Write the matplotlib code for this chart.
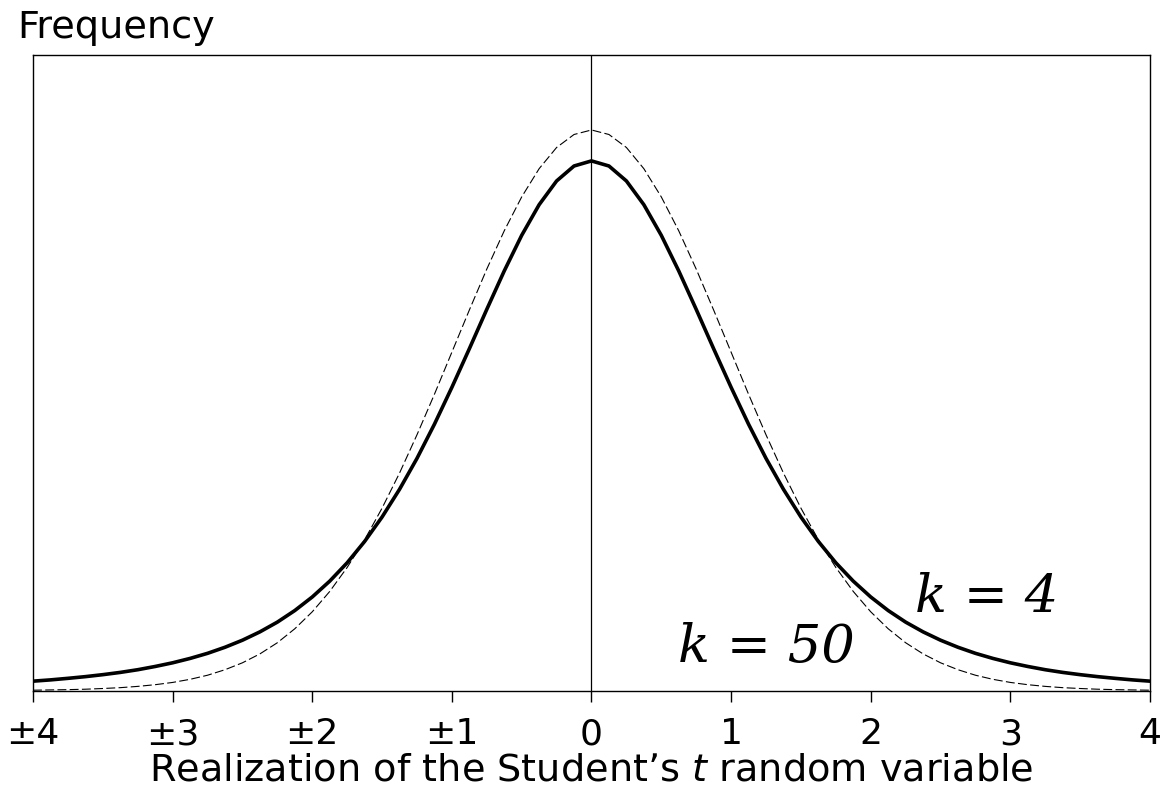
import numpy as np
import matplotlib
matplotlib.use("Agg")
import matplotlib.pyplot as plt

plt.rcParams['font.family'] = ['DejaVu Sans']

# t values (right half, the densities are symmetric about 0)
t_half = [0.0, 0.125, 0.25, 0.375, 0.5, 0.625, 0.75, 0.875, 1.0, 1.125, 1.25,
          1.375, 1.5, 1.625, 1.75, 1.875, 2.0, 2.125, 2.25, 2.375, 2.5, 2.625,
          2.75, 2.875, 3.0, 3.125, 3.25, 3.375, 3.5, 3.625, 3.75, 3.875, 4.0]
# density with k = 4 degrees of freedom
dens_k4_half = [0.3750, 0.3714, 0.3608, 0.3440, 0.3223, 0.2971, 0.2699, 0.2420,
                0.2147, 0.1886, 0.1644, 0.1425, 0.1229, 0.1056, 0.0905, 0.0775,
                0.0663, 0.0567, 0.0485, 0.0416, 0.0357, 0.0307, 0.0264, 0.0228,
                0.0197, 0.0171, 0.0148, 0.0129, 0.0113, 0.0099, 0.0087, 0.0076,
                0.0067]
# density with k = 50 degrees of freedom
dens_k50_half = [0.3969, 0.3937, 0.3845, 0.3695, 0.3495, 0.3255, 0.2984, 0.2694,
                 0.2396, 0.2098, 0.1811, 0.1540, 0.1292, 0.1068, 0.0872, 0.0702,
                 0.0558, 0.0438, 0.0339, 0.0260, 0.0197, 0.0148, 0.0109, 0.0080,
                 0.0058, 0.0042, 0.0030, 0.0021, 0.0015, 0.0010, 0.0007, 0.0005,
                 0.0003]

tick_pos = [-4, -3, -2, -1, 0, 1, 2, 3, 4]
tick_labels = ["±4", "±3", "±2", "±1", "0", "1", "2", "3", "4"]

t = np.concatenate([-np.array(t_half[:0:-1]), np.array(t_half)])
k4 = np.concatenate([dens_k4_half[:0:-1], dens_k4_half])
k50 = np.concatenate([dens_k50_half[:0:-1], dens_k50_half])

fig = plt.figure(figsize=(11.67, 7.92), dpi=100)
ax = fig.add_axes([0.0283, 0.128, 0.9571, 0.8026])

ax.plot(t, k50, color="black", linewidth=0.8, dashes=(8, 3))
ax.plot(t, k4, color="black", linewidth=2.6, solid_joinstyle="round")
ax.axvline(0, color="black", linewidth=0.9)

ax.set_xlim(-4, 4)
ax.set_ylim(0, 0.45)
ax.set_yticks([])
ax.set_xticks(tick_pos)
ax.set_xticklabels(tick_labels, fontsize=26)
ax.tick_params(axis="x", direction="out", length=8, width=1, pad=11)
for s in ax.spines.values():
    s.set_linewidth(1.0)

ax.set_xlabel("Realization of the Student\u2019s $\\mathit{t}$ random variable",
              fontsize=27.5, labelpad=1)
fig.text(0.015, 0.952, "Frequency", fontsize=27.5, ha="left", va="baseline")

serif = dict(family=["DejaVu Serif"], style="italic", fontsize=38)
ax.text(0.62, 0.020, "k = 50", ha="left", va="baseline", **serif)
ax.text(2.32, 0.0555, "k = 4", ha="left", va="baseline", **serif)

fig.savefig("out.png", dpi=100)
